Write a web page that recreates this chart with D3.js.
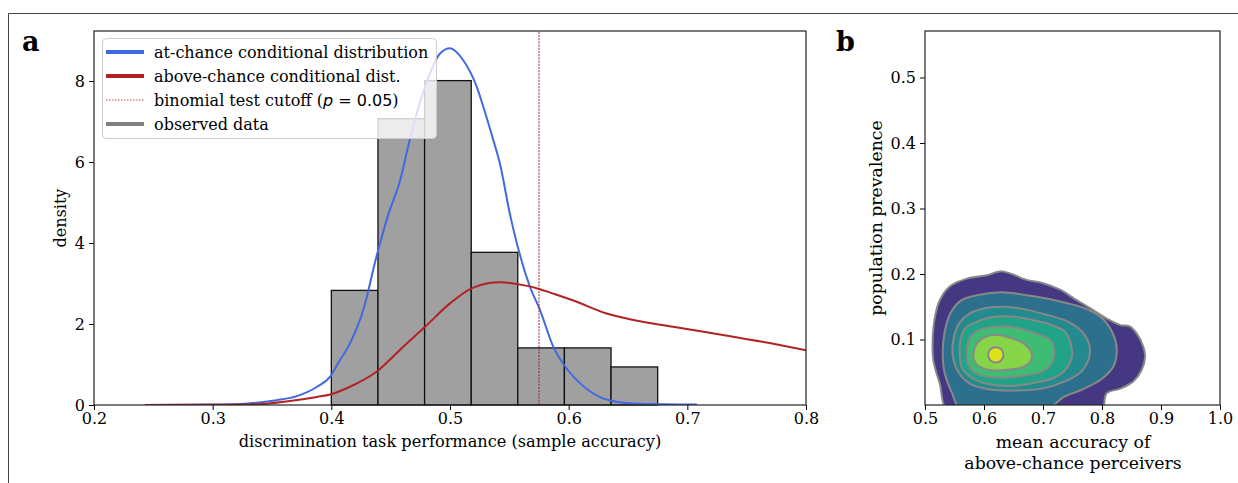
<!DOCTYPE html>
<html><head><meta charset="utf-8">
<script src="https://cdn.jsdelivr.net/npm/d3@7"></script>
<style>
html,body{margin:0;padding:0;background:#fff;}
svg{display:block;}
text{font-family:"DejaVu Serif",serif;fill:#000;}
</style></head>
<body>
<svg id="c" width="1238" height="483"></svg>
<script>
// ---------- DATA ----------
const xTicksA = [0.2,0.3,0.4,0.5,0.6,0.7,0.8];
const yTicksA = [0,2,4,6,8];
const binEdges = [0.4,0.4393,0.4786,0.5179,0.5571,0.5964,0.6357,0.675];
const binDensity = [2.83,7.07,8.01,3.77,1.41,1.41,0.94];
const cutoff = 0.575;
const atChanceX = [0.243,0.30,0.33,0.354,0.371,0.388,0.399,0.406,0.4157,0.427,0.438,0.448,0.458,0.466,0.480,0.4916,0.500,0.511,0.5225,0.528,0.5365,0.542,0.5506,0.5674,0.5758,0.587,0.597,0.6095,0.626,0.640,0.66,0.708];
const atChanceY = [0,0.01,0.04,0.12,0.22,0.45,0.70,1.05,1.52,2.35,3.66,4.7,5.55,6.54,7.94,8.68,8.81,8.52,7.86,7.37,6.54,5.97,4.7,2.92,2.35,1.44,0.95,0.54,0.2,0.08,0.03,0.01];
const aboveX = [0.243,0.30,0.337,0.365,0.388,0.399,0.4157,0.438,0.4606,0.479,0.500,0.5196,0.542,0.5618,0.5758,0.584,0.604,0.632,0.6545,0.688,0.730,0.7725,0.80];
const aboveY = [0,0.005,0.02,0.1,0.2,0.26,0.45,0.82,1.44,1.93,2.51,2.90,3.03,2.96,2.86,2.78,2.58,2.26,2.10,1.93,1.73,1.51,1.35];
const legendLabels = ["at-chance conditional distribution","above-chance conditional dist.","binomial test cutoff","observed data"];

const xTicksB = [0.5,0.6,0.7,0.8,0.9,1.0];
const yTicksB = [0.1,0.2,0.3,0.4,0.5];
// contour levels (outer -> inner), [mean accuracy, prevalence]
const contourColors = ["#453781","#2d708e","#238a8d","#20a386","#3fbc73","#86d549","#dde318"];
const level1 = [[0.541,-0.01],[0.525,0.033],[0.514,0.069],[0.513,0.099],[0.517,0.135],[0.525,0.160],[0.542,0.181],[0.571,0.193],[0.605,0.198],[0.627,0.204],[0.644,0.201],[0.672,0.191],[0.700,0.186],[0.729,0.176],[0.757,0.160],[0.785,0.145],[0.808,0.132],[0.831,0.122],[0.847,0.120],[0.859,0.109],[0.870,0.089],[0.873,0.074],[0.867,0.053],[0.853,0.036],[0.831,0.025],[0.808,0.018],[0.797,-0.01]];
const level2 = [[0.564,-0.01],[0.545,0.02],[0.533,0.05],[0.530,0.08],[0.533,0.11],[0.543,0.14],[0.562,0.160],[0.59,0.168],[0.63,0.172],[0.67,0.168],[0.72,0.160],[0.77,0.148],[0.80,0.133],[0.818,0.11],[0.825,0.085],[0.820,0.06],[0.80,0.04],[0.77,0.025],[0.735,0.012],[0.70,-0.01]];
const level3 = [[0.547,0.076],[0.549,0.104],[0.558,0.125],[0.576,0.140],[0.604,0.148],[0.636,0.150],[0.669,0.146],[0.709,0.137],[0.743,0.127],[0.769,0.109],[0.779,0.089],[0.777,0.069],[0.765,0.051],[0.737,0.036],[0.698,0.025],[0.653,0.022],[0.607,0.024],[0.575,0.033],[0.556,0.051]];
const level4 = [[0.559,0.076],[0.560,0.099],[0.568,0.117],[0.587,0.127],[0.613,0.134],[0.647,0.135],[0.681,0.130],[0.715,0.122],[0.737,0.112],[0.747,0.094],[0.749,0.074],[0.740,0.056],[0.720,0.042],[0.686,0.034],[0.647,0.029],[0.607,0.032],[0.580,0.041],[0.563,0.056]];
const level5 = [[0.571,0.079],[0.574,0.099],[0.586,0.112],[0.607,0.118],[0.636,0.120],[0.664,0.116],[0.692,0.108],[0.712,0.099],[0.719,0.084],[0.717,0.069],[0.703,0.053],[0.675,0.046],[0.641,0.042],[0.607,0.043],[0.583,0.050],[0.573,0.063]];
const level6 = [[0.582,0.079],[0.588,0.094],[0.602,0.104],[0.624,0.107],[0.647,0.102],[0.667,0.094],[0.680,0.081],[0.680,0.069],[0.667,0.058],[0.641,0.054],[0.613,0.053],[0.590,0.060],[0.583,0.069]];
const level7 = [[0.607,0.077],[0.611,0.085],[0.620,0.088],[0.629,0.085],[0.633,0.077],[0.629,0.068],[0.620,0.065],[0.611,0.068]];
const levels = [level1,level2,level3,level4,level5,level6,level7];

// ---------- DRAW ----------
const svg = d3.select("#c");
const FS = 16;
const FSB = 17.3;

// figure frame
svg.append("path").attr("d","M8.5,483 L8.5,13.5 L1238,13.5").attr("fill","none").attr("stroke","#444").attr("stroke-width",1);

// ===== Panel a =====
const xA = d3.scaleLinear().domain([0.2,0.8]).range([94,806]);
const yA = d3.scaleLinear().domain([0,9.235]).range([405,31]);
const gA = svg.append("g");
svg.append("clipPath").attr("id","clipA").append("rect").attr("x",94).attr("y",31).attr("width",712).attr("height",374);

const bins = binDensity.map((d,i)=>({x0:binEdges[i],x1:binEdges[i+1],d}));
gA.append("g").selectAll("rect").data(bins).join("rect")
  .attr("x",d=>xA(d.x0)).attr("y",d=>yA(d.d))
  .attr("width",d=>xA(d.x1)-xA(d.x0)).attr("height",d=>yA(0)-yA(d.d))
  .attr("fill","#a0a0a0").attr("stroke","#111").attr("stroke-width",1.3);

const lineA = d3.line().x(d=>xA(d[0])).y(d=>yA(d[1])).curve(d3.curveMonotoneX);
const gc = gA.append("g").attr("clip-path","url(#clipA)");
gc.append("path").datum(atChanceX.map((x,i)=>[x,atChanceY[i]])).attr("d",lineA)
  .attr("fill","none").attr("stroke","#4169e1").attr("stroke-width",2);
gc.append("path").datum(aboveX.map((x,i)=>[x,aboveY[i]])).attr("d",lineA)
  .attr("fill","none").attr("stroke","#b22222").attr("stroke-width",2);
gc.append("line").attr("x1",xA(cutoff)).attr("x2",xA(cutoff)).attr("y1",yA(0)).attr("y2",yA(9.235))
  .attr("stroke","#9a2020").attr("stroke-width",1).attr("stroke-dasharray","2,1.2");

// axes a
const axA = gA.append("g").attr("transform","translate(0,405)").call(d3.axisBottom(xA).tickValues(xTicksA).tickFormat(d3.format(".1f")).tickSize(5).tickPadding(3));
const ayA = gA.append("g").attr("transform","translate(94,0)").call(d3.axisLeft(yA).tickValues(yTicksA).tickFormat(d3.format("d")).tickSize(5).tickPadding(4));
[axA,ayA].forEach(a=>{a.select(".domain").remove();a.selectAll("text").attr("font-size",FS).attr("font-family","DejaVu Serif").attr("fill","#000");a.selectAll("line").attr("stroke","#000").attr("stroke-width",1);});
gA.append("rect").attr("x",94).attr("y",31).attr("width",712).attr("height",374).attr("fill","none").attr("stroke","#222").attr("stroke-width",1.2);

gA.append("text").attr("x",450).attr("y",447).attr("text-anchor","middle").attr("font-size",FS*1.01).text("discrimination task performance (sample accuracy)");
gA.append("text").attr("transform","translate(66,218) rotate(-90)").attr("text-anchor","middle").attr("font-size",FS).text("density");
svg.append("text").attr("x",22).attr("y",51).attr("font-size",27).attr("font-weight","bold").text("a");

// legend
const lg = svg.append("g");
lg.append("rect").attr("x",102.5).attr("y",38.5).attr("width",334).attr("height",100).attr("rx",4)
  .attr("fill","#fff").attr("fill-opacity",0.8).attr("stroke","#ccc").attr("stroke-width",1);
const handles = [
  {c:"#4169e1",w:4,dash:null},
  {c:"#b22222",w:4,dash:null},
  {c:"#b22222",w:0.8,dash:"1.5,1.5"},
  {c:"#808080",w:4,dash:null}];
handles.forEach((h,i)=>{
  const yy = 52 + i*24;
  const l = lg.append("line").attr("x1",106).attr("x2",144).attr("y1",yy).attr("y2",yy).attr("stroke",h.c).attr("stroke-width",h.w);
  if(h.dash) l.attr("stroke-dasharray",h.dash);
  const t = lg.append("text").attr("x",154).attr("y",yy+5.5).attr("font-size",FS);
  if(i===2){
    t.append("tspan").text(legendLabels[i]+" (");
    t.append("tspan").attr("font-family","DejaVu Sans").attr("font-style","italic").text("p");
    t.append("tspan").attr("font-family","DejaVu Sans").text(" = 0.05");
    t.append("tspan").text(")");
  } else t.text(legendLabels[i]);
});

// ===== Panel b =====
const xB = d3.scaleLinear().domain([0.5,1.0]).range([925,1220]);
const yB = d3.scaleLinear().domain([0,0.571]).range([405,31]);
const gB = svg.append("g");
svg.append("clipPath").attr("id","clipB").append("rect").attr("x",925).attr("y",31).attr("width",295).attr("height",374);
const gcB = gB.append("g").attr("clip-path","url(#clipB)");
const lineB = d3.line().x(d=>xB(d[0])).y(d=>yB(d[1])).curve(d3.curveCatmullRomClosed.alpha(0.5));
gcB.selectAll("path").data(levels).join("path")
  .attr("d",lineB).attr("fill",(d,i)=>contourColors[i])
  .attr("stroke","#888").attr("stroke-width",2);

const axB = gB.append("g").attr("transform","translate(0,405)").call(d3.axisBottom(xB).tickValues(xTicksB).tickFormat(d3.format(".1f")).tickSize(5).tickPadding(3));
const ayB = gB.append("g").attr("transform","translate(925,0)").call(d3.axisLeft(yB).tickValues(yTicksB).tickFormat(d3.format(".1f")).tickSize(5).tickPadding(4));
[axB,ayB].forEach(a=>{a.select(".domain").remove();a.selectAll("text").attr("font-size",FS).attr("font-family","DejaVu Serif").attr("fill","#000");a.selectAll("line").attr("stroke","#000").attr("stroke-width",1);});
gB.append("rect").attr("x",925).attr("y",31).attr("width",295).attr("height",374).attr("fill","none").attr("stroke","#222").attr("stroke-width",1.2);

gB.append("text").attr("x",1073).attr("y",448).attr("text-anchor","middle").attr("font-size",FSB).text("mean accuracy of");
gB.append("text").attr("x",1073).attr("y",469).attr("text-anchor","middle").attr("font-size",FSB).text("above-chance perceivers");
gB.append("text").attr("transform","translate(882,218) rotate(-90)").attr("text-anchor","middle").attr("font-size",FSB).text("population prevalence");
svg.append("text").attr("x",836).attr("y",51).attr("font-size",27).attr("font-weight","bold").text("b");
</script>
</body></html>
